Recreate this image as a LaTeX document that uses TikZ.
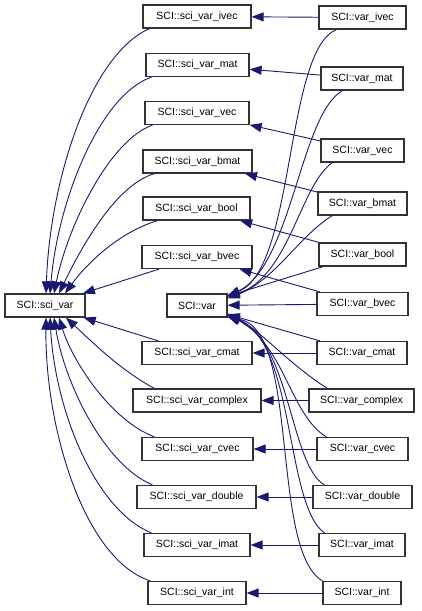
\documentclass[tikz,border=0pt]{standalone}
\usepackage{fontspec}
\setmainfont{Liberation Sans}
\usetikzlibrary{arrows.meta}
\definecolor{edgeblue}{RGB}{25,25,112}
\begin{document}
\begin{tikzpicture}[x=1pt,y=-1pt,
  box/.style={draw=black!80, line width=1.2pt, fill=white, minimum height=23pt, inner sep=0pt, font=\fontsize{10.5}{12}\selectfont},
  edge/.style={draw=edgeblue, line width=0.9pt, -{Triangle[length=12pt,width=9pt]}}]
\useasboundingbox (0,0) rectangle (421,611);
% left
\node[box, minimum width=80pt] (sv) at (45,305.5) {SCI::sci\_var};
\node[box, minimum width=60pt] (v) at (197,305.5) {SCI::var};
% middle column
\node[box, minimum width=108pt] (mivec) at (197,16.5) {SCI::sci\_var\_ivec};
\node[box, minimum width=103pt] (mmat) at (197.5,65) {SCI::sci\_var\_mat};
\node[box, minimum width=104pt] (mvec) at (197,113) {SCI::sci\_var\_vec};
\node[box, minimum width=109pt] (mbmat) at (197.5,161.5) {SCI::sci\_var\_bmat};
\node[box, minimum width=107pt] (mbool) at (196.5,208.5) {SCI::sci\_var\_bool};
\node[box, minimum width=110pt] (mbvec) at (197,257) {SCI::sci\_var\_bvec};
\node[box, minimum width=110pt] (mcmat) at (197,353) {SCI::sci\_var\_cmat};
\node[box, minimum width=128pt] (mcomplex) at (197,400.5) {SCI::sci\_var\_complex};
\node[box, minimum width=111pt] (mcvec) at (197.5,449) {SCI::sci\_var\_cvec};
\node[box, minimum width=119pt] (mdouble) at (196.5,497) {SCI::sci\_var\_double};
\node[box, minimum width=106pt] (mimat) at (197,545) {SCI::sci\_var\_imat};
\node[box, minimum width=98pt] (mint) at (197,593) {SCI::sci\_var\_int};
% right column
\node[box, minimum width=87pt] (rivec) at (362.5,17.5) {SCI::var\_ivec};
\node[box, minimum width=82pt] (rmat) at (362,78.5) {SCI::var\_mat};
\node[box, minimum width=83pt] (rvec) at (362.5,150.5) {SCI::var\_vec};
\node[box, minimum width=89pt] (rbmat) at (362.5,203.5) {SCI::var\_bmat};
\node[box, minimum width=87pt] (rbool) at (362.5,254.5) {SCI::var\_bool};
\node[box, minimum width=91pt] (rbvec) at (362.5,304) {SCI::var\_bvec};
\node[box, minimum width=90pt] (rcmat) at (362,353) {SCI::var\_cmat};
\node[box, minimum width=105pt] (rcomplex) at (361.5,400.5) {SCI::var\_complex};
\node[box, minimum width=91pt] (rcvec) at (362.5,449) {SCI::var\_cvec};
\node[box, minimum width=99pt] (rdouble) at (362.5,497) {SCI::var\_double};
\node[box, minimum width=86pt] (rimat) at (362,545) {SCI::var\_imat};
\node[box, minimum width=78pt] (rint) at (362,593) {SCI::var\_int};
% right -> middle (straight)
\foreach \n in {ivec,mat,vec,bmat,bool,bvec,cmat,complex,cvec,double,imat,int}
  \draw[edge] (r\n) -- (m\n);
% right -> var (straight)
\draw[edge] (rbool) -- (v);
\draw[edge] (rbvec) -- (v);
\draw[edge] (rcmat) -- (v);
% right -> var (curved, upper)
\draw[edge] ([xshift=18pt]rivec.south west) .. controls (285,50) and (295,270) .. ([yshift=-2pt]v.north east);
\draw[edge] ([xshift=22pt]rmat.south west) .. controls (300,115) and (292,265) .. ([yshift=-3pt]v.north east);
\draw[edge] ([xshift=12pt]rvec.south west) .. controls (300,185) and (290,275) .. ([yshift=-4pt]v.north east);
\draw[edge] ([xshift=15pt]rbmat.south west) .. controls (300,235) and (275,280) .. ([yshift=-5pt]v.north east);
% right -> var (curved, lower)
\draw[edge] ([xshift=19pt]rcomplex.north west) .. controls (290,365) and (260,330) .. ([yshift=4pt]v.south east);
\draw[edge] ([xshift=10pt]rcvec.north west) .. controls (290,415) and (285,345) .. ([yshift=3pt]v.south east);
\draw[edge] ([xshift=12pt]rdouble.north west) .. controls (290,465) and (290,340) .. ([yshift=2pt]v.south east);
\draw[edge] ([xshift=6pt]rimat.north west) .. controls (285,505) and (295,340) .. ([yshift=1pt]v.south east);
\draw[edge] (rint.north west) .. controls (270,550) and (300,330) .. ([yshift=0.5pt]v.south east);
% middle -> sci_var (straight)
\draw[edge] (mbvec) -- (sv);
\draw[edge] (mcmat) -- (sv);
% middle -> sci_var (curved)
\draw[edge] ([xshift=7pt]mivec.south west) .. controls (90,55) and (50,180) .. ([xshift=1pt]sv.north);
\draw[edge] ([xshift=6pt]mmat.south west) .. controls (100,95) and (58,200) .. ([xshift=5pt]sv.north);
\draw[edge] ([xshift=8pt]mvec.south west) .. controls (110,140) and (68,225) .. ([xshift=9pt]sv.north);
\draw[edge] ([xshift=12pt]mbmat.south west) .. controls (115,185) and (80,250) .. ([xshift=14pt]sv.north);
\draw[edge] ([xshift=15pt]mbool.south west) .. controls (120,232) and (88,262) .. ([xshift=20pt]sv.north);
\draw[edge] ([xshift=22pt]mcomplex.north west) .. controls (120,370) and (90,340) .. ([xshift=21pt]sv.south);
\draw[edge] ([xshift=13pt]mcvec.north west) .. controls (110,420) and (72,360) .. ([xshift=14pt]sv.south);
\draw[edge] ([xshift=16pt]mdouble.north west) .. controls (105,465) and (65,385) .. ([xshift=9pt]sv.south);
\draw[edge] ([xshift=8pt]mimat.north west) .. controls (95,510) and (55,410) .. ([xshift=5pt]sv.south);
\draw[edge] ([xshift=3pt]mint.north west) .. controls (85,560) and (45,430) .. ([xshift=1pt]sv.south);
\end{tikzpicture}
\end{document}
